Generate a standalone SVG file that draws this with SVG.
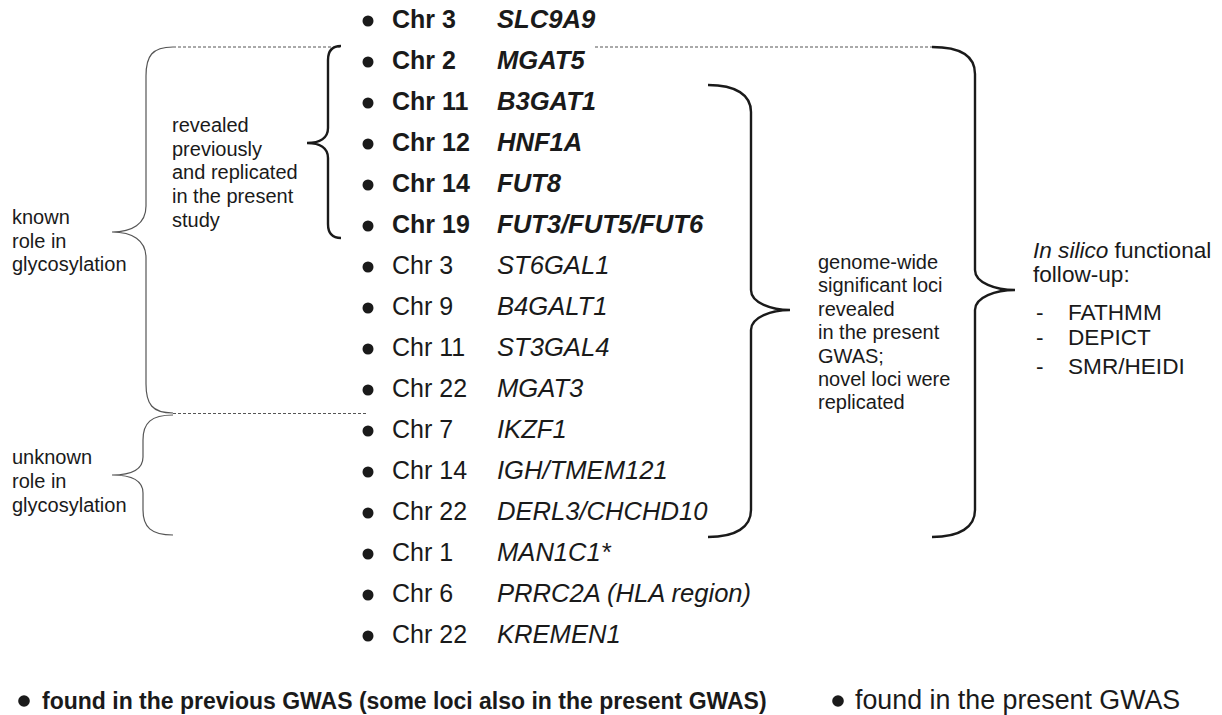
<svg xmlns="http://www.w3.org/2000/svg" width="1222" height="715" viewBox="0 0 1222 715">
<style>
.row{font-family:"Liberation Sans",Arial,sans-serif;font-size:25px;fill:#1a1a1a}
.g{font-size:25.6px}
.b{font-weight:bold}
.i{font-style:italic}
.ann{font-family:"Liberation Sans",Arial,sans-serif;font-size:20px;fill:#1a1a1a}
.ann2{font-family:"Liberation Sans",Arial,sans-serif;font-size:22.6px;fill:#1a1a1a}
.leg{font-family:"Liberation Sans",Arial,sans-serif;font-size:23px;fill:#1a1a1a}
.thin{fill:none;stroke:#555;stroke-width:1.2}
.thick{fill:none;stroke:#1a1a1a;stroke-width:2.4}
.dash{fill:none;stroke:#555;stroke-width:1;stroke-dasharray:3 2}
.dot{fill:#1a1a1a}
</style>
<rect width="1222" height="715" fill="#fff"/>
<g id="connectors">
<path class="dash" d="M173,47 H340"/>
<path class="dash" d="M595,47 H932"/>
<path class="dash" d="M173,413.5 H366"/>
<path id="brace-known" class="thin" d="M173,47 C152,47 146,56 146,76 L146,206 C146,224 132,232 112,232 C132,232 146,240 146,258 L146,384 C146,404 152,413 173,413"/>
<path id="brace-unknown" class="thin" d="M173,415 C151,415 143,423 143,440 L143,457 C143,470 130,475 112,475 C130,475 143,480 143,493 L143,510 C143,527 151,535 173,535"/>
<path id="brace-revealed" class="thick" d="M341,46 C332,46 328,51 328,60 L328,128 C328,138 320,143 307,143 C320,143 328,148 328,158 L328,224 C328,233 332,238 341,238"/>
<path id="brace-gwas" class="thick" d="M708,85 C736,85 751,95 751,112 L751,290 C751,303 772,310 790,310 C772,310 751,317 751,330 L751,510 C751,527 736,537 708,537"/>
<path id="brace-insilico" class="thick" d="M932,47 C960,47 975,56 975,74 L975,270 C975,283 996,290 1015,290 C996,290 975,297 975,310 L975,510 C975,527 960,537 932,537"/>
</g>
<g id="rows">
<g id="r0"><circle class="dot" cx="368" cy="21" r="5.5"/><text class="row b" x="392" y="28">Chr 3</text><text class="row g b i" x="497" y="28">SLC9A9</text></g>
<g id="r1"><circle class="dot" cx="368" cy="62" r="5.5"/><text class="row b" x="392" y="69">Chr 2</text><text class="row g b i" x="497" y="69">MGAT5</text></g>
<g id="r2"><circle class="dot" cx="368" cy="103" r="5.5"/><text class="row b" x="392" y="110">Chr 11</text><text class="row g b i" x="497" y="110">B3GAT1</text></g>
<g id="r3"><circle class="dot" cx="368" cy="144" r="5.5"/><text class="row b" x="392" y="151">Chr 12</text><text class="row g b i" x="497" y="151">HNF1A</text></g>
<g id="r4"><circle class="dot" cx="368" cy="185" r="5.5"/><text class="row b" x="392" y="192">Chr 14</text><text class="row g b i" x="497" y="192">FUT8</text></g>
<g id="r5"><circle class="dot" cx="368" cy="226" r="5.5"/><text class="row b" x="392" y="233">Chr 19</text><text class="row g b i" x="497" y="233">FUT3/FUT5/FUT6</text></g>
<g id="r6"><circle class="dot" cx="368" cy="267" r="5.5"/><text class="row" x="392" y="274">Chr 3</text><text class="row g i" x="497" y="274">ST6GAL1</text></g>
<g id="r7"><circle class="dot" cx="368" cy="308" r="5.5"/><text class="row" x="392" y="315">Chr 9</text><text class="row g i" x="497" y="315">B4GALT1</text></g>
<g id="r8"><circle class="dot" cx="368" cy="349" r="5.5"/><text class="row" x="392" y="356">Chr 11</text><text class="row g i" x="497" y="356">ST3GAL4</text></g>
<g id="r9"><circle class="dot" cx="368" cy="390" r="5.5"/><text class="row" x="392" y="397">Chr 22</text><text class="row g i" x="497" y="397">MGAT3</text></g>
<g id="r10"><circle class="dot" cx="368" cy="431" r="5.5"/><text class="row" x="392" y="438">Chr 7</text><text class="row g i" x="497" y="438">IKZF1</text></g>
<g id="r11"><circle class="dot" cx="368" cy="472" r="5.5"/><text class="row" x="392" y="479">Chr 14</text><text class="row g i" x="497" y="479">IGH/TMEM121</text></g>
<g id="r12"><circle class="dot" cx="368" cy="513" r="5.5"/><text class="row" x="392" y="520">Chr 22</text><text class="row g i" x="497" y="520">DERL3/CHCHD10</text></g>
<g id="r13"><circle class="dot" cx="368" cy="554" r="5.5"/><text class="row" x="392" y="561">Chr 1</text><text class="row g i" x="497" y="561">MAN1C1*</text></g>
<g id="r14"><circle class="dot" cx="368" cy="595" r="5.5"/><text class="row" x="392" y="602">Chr 6</text><text class="row g i" x="497" y="602">PRRC2A (HLA region)</text></g>
<g id="r15"><circle class="dot" cx="368" cy="636" r="5.5"/><text class="row" x="392" y="643">Chr 22</text><text class="row g i" x="497" y="643">KREMEN1</text></g>
</g>
<g id="label-known"><text class="ann" x="12"><tspan x="12" y="224">known</tspan><tspan x="12" y="247.5">role in</tspan><tspan x="12" y="271">glycosylation</tspan></text></g>
<g id="label-unknown"><text class="ann" x="12"><tspan x="12" y="464">unknown</tspan><tspan x="12" y="488">role in</tspan><tspan x="12" y="512">glycosylation</tspan></text></g>
<g id="label-revealed"><text class="ann" x="172"><tspan x="172" y="132">revealed</tspan><tspan x="172" y="155.7">previously</tspan><tspan x="172" y="179.4">and replicated</tspan><tspan x="172" y="203.1">in the present</tspan><tspan x="172" y="226.8">study</tspan></text></g>
<g id="label-gwas"><text class="ann" x="818"><tspan x="818" y="269">genome-wide</tspan><tspan x="818" y="292.4">significant loci</tspan><tspan x="818" y="315.8">revealed</tspan><tspan x="818" y="339.2">in the present</tspan><tspan x="818" y="362.6">GWAS;</tspan><tspan x="818" y="386">novel loci were</tspan><tspan x="818" y="409.4">replicated</tspan></text></g>
<g id="label-insilico"><text class="ann2"><tspan x="1033" y="258" font-style="italic">In silico</tspan><tspan> functional</tspan><tspan x="1033" y="282">follow-up:</tspan><tspan x="1036" y="320">-</tspan><tspan x="1068" y="320">FATHMM</tspan><tspan x="1036" y="345">-</tspan><tspan x="1068" y="345">DEPICT</tspan><tspan x="1036" y="374">-</tspan><tspan x="1068" y="374">SMR/HEIDI</tspan></text></g>
<g id="legend">
<circle class="dot" cx="24" cy="701" r="5.8"/>
<text class="leg b" x="42" y="709">found in the previous GWAS (some loci also in the present GWAS)</text>
<circle class="dot" cx="838" cy="701" r="5.8"/>
<text class="leg" x="855" y="709" style="font-size:26.8px">found in the present GWAS</text>
</g>
</svg>
